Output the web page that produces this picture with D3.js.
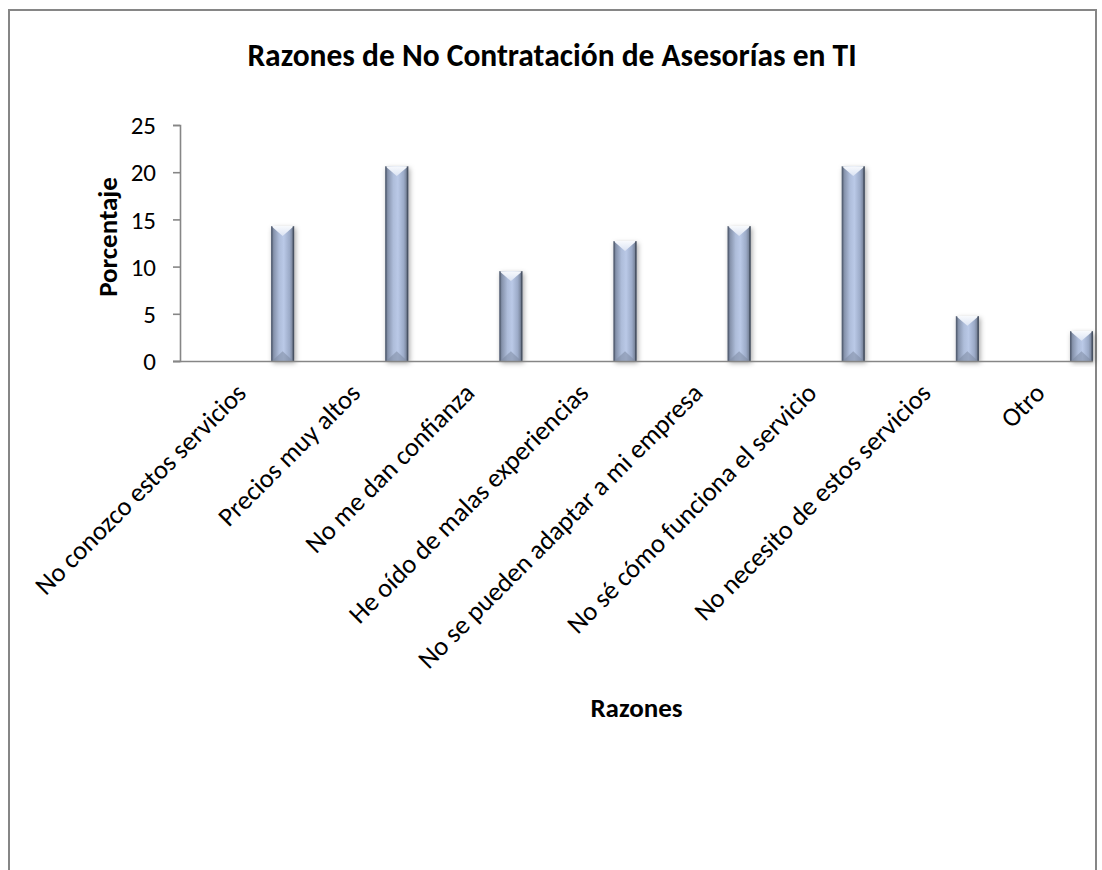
<!DOCTYPE html>
<html>
<head>
<meta charset="utf-8">
<script src="https://cdn.jsdelivr.net/npm/d3@7"></script>
<style>
  html, body { margin: 0; padding: 0; background: #fff; }
  svg { display: block; }
  text { font-family: Carlito, Lato, "Liberation Sans", sans-serif; fill: #000; }
</style>
</head>
<body>
<svg id="chart" width="1102" height="870"></svg>
<script>
// Survey results: share of respondents (%) per reason
const categories = [
  "No conozco estos servicios",
  "Precios muy altos",
  "No me dan confianza",
  "He oído de malas experiencias",
  "No se pueden adaptar a mi empresa",
  "No sé cómo funciona el servicio",
  "No necesito de estos servicios",
  "Otro"
];
const values = [14.29, 20.63, 9.52, 12.70, 14.29, 20.63, 4.76, 3.17];
const yTicks = [0, 5, 10, 15, 20, 25];
const chartTitle = "Razones de No Contratación de Asesorías en TI";
const xTitle = "Razones";
const yTitle = "Porcentaje";

const svg = d3.select("#chart");
const plot = { left: 180, right: 1093, top: 125, bottom: 361 };

const x = d3.scaleBand().domain(categories).range([plot.left, plot.right]).padding(0);
const y = d3.scaleLinear().domain([0, 25]).range([plot.bottom, plot.top]);

const defs = svg.append("defs");

// Cylinder-like horizontal shading of the bar body
const body = defs.append("linearGradient").attr("id", "barBody")
  .attr("x1", "0%").attr("x2", "100%").attr("y1", "0%").attr("y2", "0%");
[[0, "#5e6a80"], [0.12, "#8794ad"], [0.35, "#aebdda"], [0.55, "#bac9e7"], [0.8, "#9cabc8"], [0.92, "#7c889f"], [1, "#4f596b"]]
  .forEach(([o, c]) => body.append("stop").attr("offset", o).attr("stop-color", c));

const topBevel = defs.append("linearGradient").attr("id", "topBevel")
  .attr("x1", "0%").attr("x2", "0%").attr("y1", "0%").attr("y2", "100%");
[[0, "#f8fafd"], [1, "#dbe3f3"]]
  .forEach(([o, c]) => topBevel.append("stop").attr("offset", o).attr("stop-color", c));

const shadow = defs.append("filter").attr("id", "barShadow")
  .attr("x", "-40%").attr("y", "-10%").attr("width", "180%").attr("height", "130%");
shadow.append("feDropShadow").attr("dx", 1.5).attr("dy", 2).attr("stdDeviation", 2.4)
  .attr("flood-color", "#000").attr("flood-opacity", 0.35);

// Chart frame
svg.append("rect")
  .attr("x", 9).attr("y", 10).attr("width", 1087).attr("height", 900)
  .attr("fill", "#fff").attr("stroke", "#868686").attr("stroke-width", 2);

// Title
svg.append("text")
  .attr("x", 552).attr("y", 66)
  .attr("text-anchor", "middle")
  .style("font-size", "31.5px").style("font-weight", "bold")
  .text(chartTitle);

// Y axis
const yAxis = svg.append("g")
  .attr("transform", `translate(${plot.left},0)`)
  .call(d3.axisLeft(y).tickValues(yTicks).tickSize(7).tickPadding(17).tickFormat(d3.format("d")));
yAxis.select(".domain").attr("stroke", "#868686").attr("stroke-width", 1.6);
yAxis.selectAll(".tick line").attr("stroke", "#868686").attr("stroke-width", 1.6);
yAxis.selectAll(".tick text").style("font-size", "25px").attr("dy", "0.35em");

// Bars
const barW = 23;
const bars = svg.append("g").selectAll("g.bar")
  .data(categories.map((c, i) => ({ c, v: values[i] })))
  .join("g").attr("class", "bar");

bars.each(function (d) {
  const g = d3.select(this);
  const x1 = x(d.c) + x.bandwidth();
  const x0 = x1 - barW;
  const yt = y(d.v), yb = y(0);
  const h = yb - yt;
  const bev = Math.min(barW / 2, h / 2) * 0.85;
  const xm = (x0 + x1) / 2;
  g.append("rect").attr("x", x0).attr("y", yt).attr("width", barW).attr("height", h)
    .attr("fill", "url(#barBody)").attr("filter", "url(#barShadow)");
  // top bevel facet
  g.append("path")
    .attr("d", `M${x0},${yt} L${x1},${yt} L${xm},${yt + bev} Z`)
    .attr("fill", "url(#topBevel)");
  // bottom bevel facet
  g.append("path")
    .attr("d", `M${x0 + 1},${yb} L${x1 - 1},${yb} L${xm},${yb - bev} Z`)
    .attr("fill", "#7d8aa3").attr("opacity", 0.55);
  // side edges
  g.append("rect").attr("x", x0).attr("y", yt).attr("width", 1.5).attr("height", h)
    .attr("fill", "#4d5769").attr("opacity", 0.6);
  g.append("rect").attr("x", x1 - 1.5).attr("y", yt).attr("width", 1.5).attr("height", h)
    .attr("fill", "#3f4858").attr("opacity", 0.7);
});

// X axis
const xAxis = svg.append("g")
  .attr("transform", `translate(0,${plot.bottom})`)
  .call(d3.axisBottom(x).tickSize(0).tickPadding(0));
xAxis.select(".domain").attr("stroke", "#868686").attr("stroke-width", 1.6)
  .attr("d", `M${plot.left - 7},0.5H${plot.right}`);
xAxis.selectAll(".tick text")
  .style("font-size", "26.5px")
  .attr("text-anchor", "end")
  .attr("dy", "0.35em")
  .attr("transform", "translate(4,27) rotate(-45)")
  .attr("x", 0).attr("y", 0);

// Axis titles
svg.append("text")
  .attr("x", (plot.left + plot.right) / 2).attr("y", 717)
  .attr("text-anchor", "middle")
  .style("font-size", "27px").style("font-weight", "bold")
  .text(xTitle);

svg.append("text")
  .attr("transform", `translate(117,237) rotate(-90)`)
  .attr("text-anchor", "middle")
  .style("font-size", "27px").style("font-weight", "bold")
  .text(yTitle);
</script>
</body>
</html>
